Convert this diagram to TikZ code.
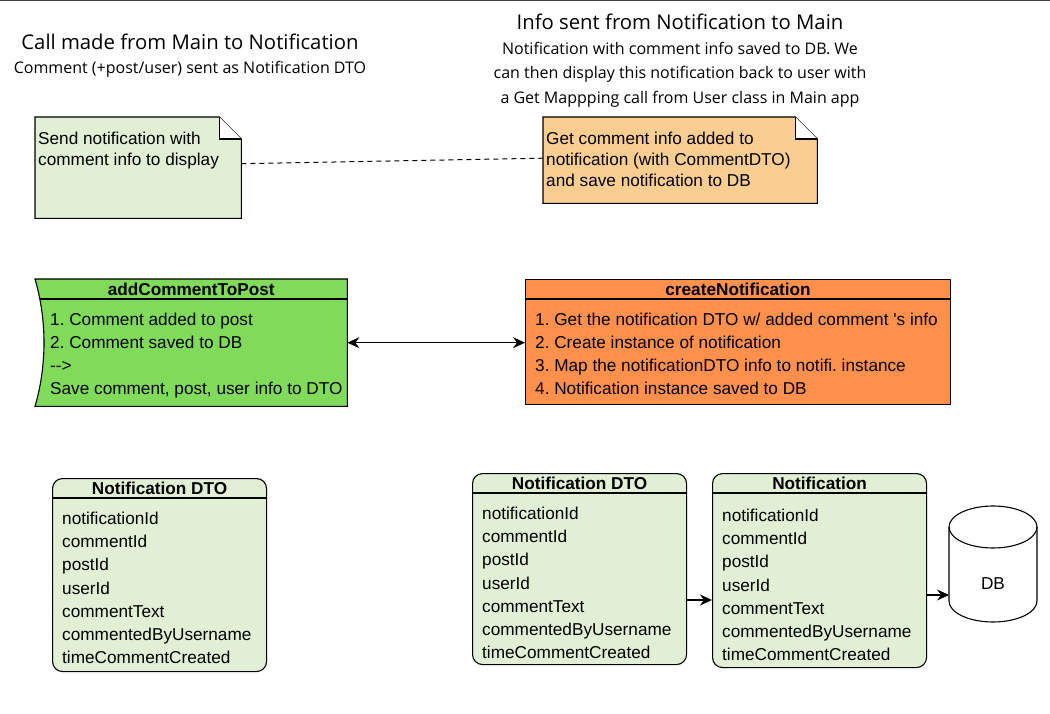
\documentclass[tikz,border=0pt]{standalone}
\usepackage{fontspec}
\setmainfont{Liberation Sans}
\newfontfamily\titlefont{Open Sans}
\usetikzlibrary{arrows.meta, calc, positioning}
\frenchspacing

\definecolor{notegreen}{HTML}{E1EFD4}
\definecolor{noteorange}{HTML}{FACE91}
\definecolor{methodgreen}{HTML}{80DB5B}
\definecolor{methodorange}{HTML}{FF914D}

\begin{document}
\begin{tikzpicture}[x=1pt, y=-1pt,
  every node/.style={font=\fontsize{17.2}{20.6}\selectfont},
  title/.style={font=\titlefont\fontsize{20.3}{24}\selectfont},
  subtitle/.style={font=\titlefont\fontsize{16}{24.5}\selectfont, align=center},
  notebody/.style={anchor=north west, align=left, inner sep=0pt},
  field/.style={anchor=west, inner sep=0pt, text height=12.4pt, text depth=3.6pt},
  header/.style={font=\bfseries\fontsize{17.2}{20.6}\selectfont, inner sep=0pt},
  frame/.style={line width=1.1pt},
  flow/.style={frame, -{Stealth[length=12pt, width=11pt, inset=4pt]}},
  biflow/.style={frame, {Stealth[length=12pt, width=11pt, inset=4pt]}-{Stealth[length=12pt, width=11pt, inset=4pt]}},
  classbox/.style={frame, draw, fill=notegreen, rounded corners=10pt, anchor=north west, inner sep=0pt},
  methodbox/.style={frame, draw, anchor=north west, inner sep=0pt}
]
\useasboundingbox (0,0) rectangle (1050,714);
\fill[white] (0,0) rectangle (1050,714);
\draw[line width=3pt, black!75] (0,0) -- (1050,0);

% titles
\node[title] (callTitle) at (190,42) {Call made from Main to Notification};
\node[subtitle] (callSub) at (190,69) {Comment (+post/user) sent as Notification DTO};
\node[title] (infoTitle) at (680,22) {Info sent from Notification to Main};
\node[subtitle, anchor=north, inner sep=0pt] (infoSub) at (680,42)
  {Notification with comment info saved to DB. We\\
   can then display this notification back to user with\\
   a Get Mappping call from User class in Main app};

% notes
\node[minimum width=206, minimum height=101, anchor=north west, inner sep=0] (noteSend) at (35,117) {};
\node[minimum width=274, minimum height=86, anchor=north west, inner sep=0] (noteGet) at (543,117) {};
\foreach \nt/\col in {noteSend/notegreen, noteGet/noteorange} {
  \draw[frame, fill=\col] (\nt.north west) -- ([xshift=-22pt]\nt.north east) -- ([yshift=-22pt]\nt.north east)
      -- (\nt.south east) -- (\nt.south west) -- cycle;
  \draw[frame, fill=white] ([xshift=-22pt]\nt.north east) -- ([xshift=-22pt, yshift=-22pt]\nt.north east)
      -- ([yshift=-22pt]\nt.north east);
};
\node[notebody] (sendText) at (38,132) {Send notification with\\comment info to display};
\node[notebody, font=\fontsize{17.2}{21}\selectfont] (getText) at (546,132)
  {Get comment info added to\\notification (with CommentDTO)\\and save notification to DB};
\draw[line width=1pt, dash pattern=on 5pt off 4pt] ([yshift=4pt]noteSend.east) -- ([yshift=2pt]noteGet.west);

% method boxes
\node[minimum width=312, minimum height=127, anchor=north west, inner sep=0] (addComment) at (35,279) {};
\draw[frame, fill=methodgreen] (addComment.north west) -- (addComment.north east) -- (addComment.south east)
    -- (addComment.south west) .. controls ($(addComment.south west)+(12,-41)$) and ($(addComment.north west)+(12,41)$)
    .. (addComment.north west) -- cycle;
\draw[frame] ([xshift=5pt, yshift=-20pt]addComment.north west) -- ([yshift=-20pt]addComment.north east);
\node[header] (addCommentHd) at ([yshift=-10pt]addComment.north) {addCommentToPost};
\foreach \txt [count=\i] in {1. Comment added to post, 2. Comment saved to DB, -{}-{}>, {Save comment, post, user info to DTO}}
  \node[field] (addComment-\i) at ([xshift=15pt, yshift={-19pt-23pt*\i}]addComment.north west) {\txt};

\node[methodbox, fill=methodorange, minimum width=425, minimum height=125] (createNotif) at (525,279) {};
\draw[frame] ([yshift=-20pt]createNotif.north west) -- ([yshift=-20pt]createNotif.north east);
\node[header] (createNotifHd) at ([yshift=-10pt]createNotif.north) {createNotification};
\foreach \txt [count=\i] in {1. Get the notification DTO w/ added comment \textquotesingle s info, 2. Create instance of notification,
    3. Map the notificationDTO info to notifi. instance, 4. Notification instance saved to DB}
  \node[field] (createNotif-\i) at ([xshift=10pt, yshift={-19pt-23pt*\i}]createNotif.north west) {\txt};

\draw[biflow] (addComment.east) -- (addComment.east -| createNotif.west);

% class tables
\node[classbox, minimum width=214, minimum height=193] (dtoMain) at (52,478) {};
\node[classbox, minimum width=214, minimum height=191] (dtoNotif) at (472,473) {};
\node[classbox, minimum width=214, minimum height=194] (notif) at (712,473) {};
\foreach \tbl/\ttl/\gap in {dtoMain/Notification DTO/42, dtoNotif/Notification DTO/42, notif/Notification/44} {
  \draw[frame] ([yshift=-20pt]\tbl.north west) -- ([yshift=-20pt]\tbl.north east);
  \node[header] (\tbl-head) at ([yshift=-10pt]\tbl.north) {\ttl};
  \foreach \fld [count=\i from 0] in {notificationId, commentId, postId, userId, commentText,
      commentedByUsername, timeCommentCreated}
    \node[field] (\tbl-\i) at ([xshift=10pt, yshift={-\gap pt-23.2pt*\i}]\tbl.north west) {\fld};
};

% database
\draw[frame, fill=white] (949,527) -- (949,601) arc[start angle=180, end angle=360, x radius=44pt, y radius=21pt]
    -- (1037,527) arc[start angle=0, end angle=180, x radius=44pt, y radius=21pt] -- cycle;
\draw[frame] (949,527) arc[start angle=180, end angle=360, x radius=44pt, y radius=21pt];
\node (db) at (993,584) {DB};
\coordinate (dbLeft) at (949,595);

\draw[flow] ([yshift=-127pt]dtoNotif.north east) -- ([yshift=-127pt]notif.north west);
\draw[flow] (notif.east |- dbLeft) -- (dbLeft);

\end{tikzpicture}
\end{document}
